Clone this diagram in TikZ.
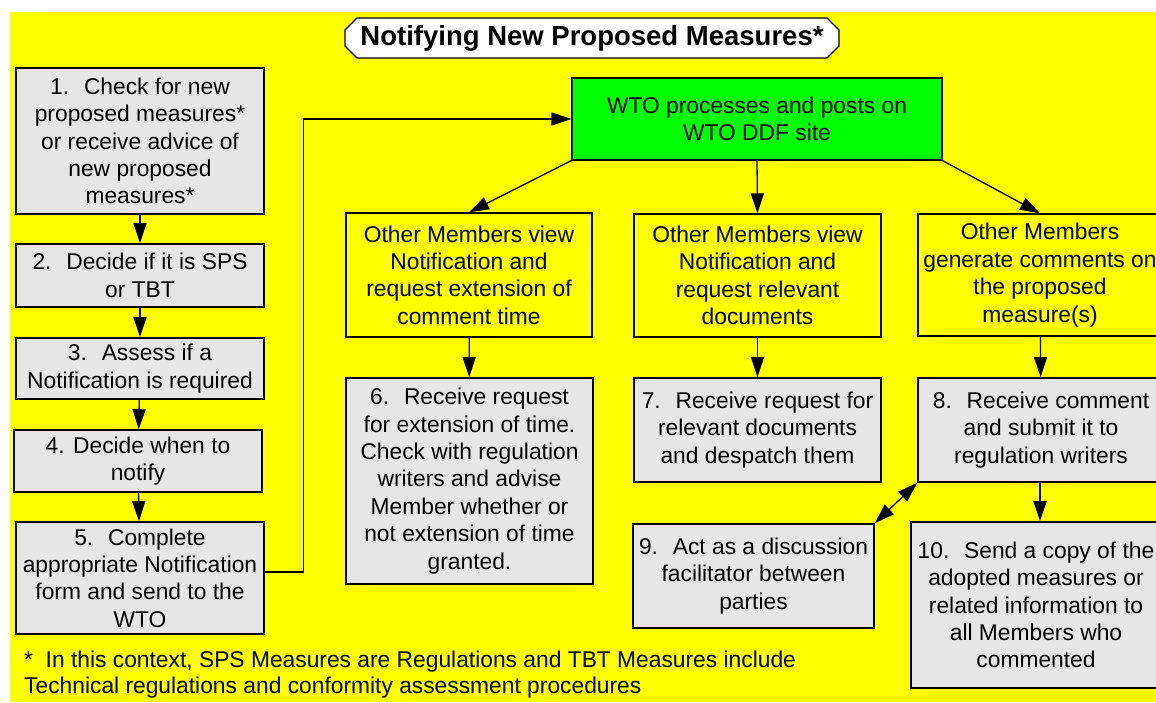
\documentclass[tikz,border=0pt]{standalone}
\usepackage{fontspec}
\setmainfont{Liberation Sans}
\usetikzlibrary{arrows.meta,shapes.misc}
\definecolor{bgyellow}{RGB}{255,255,0}
\definecolor{wtogreen}{RGB}{0,255,0}
\definecolor{stepgray}{RGB}{230,230,230}
\tikzset{
  boxfont/.style={font=\fontsize{22.8}{27.4}\selectfont},
  graybox/.style={draw, line width=1.6pt, fill=stepgray, align=center, inner sep=0pt, boxfont},
  memberbox/.style={draw, line width=1.3pt, fill=bgyellow, align=center, inner sep=0pt, boxfont},
  arr/.style={line width=1.3pt, -{Triangle[length=20pt,width=13pt]}},
  dblarr/.style={line width=1.3pt, {Triangle[length=20pt,width=13pt]}-{Triangle[length=20pt,width=13pt]}}
}
\begin{document}
\begin{tikzpicture}[x=1pt,y=-1pt]
\useasboundingbox (0,0) rectangle (1156,702);
\clip (0,0) rectangle (1156,702);
% background
\fill[white] (0,0) rectangle (1156,702);
\fill[bgyellow] (10,12) rectangle (1156,702);

% title
\node[chamfered rectangle, chamfered rectangle xsep=6pt, chamfered rectangle ysep=6pt,
  draw, line width=1.3pt, fill=white, minimum width=494pt, minimum height=40pt, inner sep=0pt,
  font=\fontsize{27.5}{30}\selectfont\bfseries] (title) at (592,38) {Notifying New Proposed Measures*};

% left column
\node[graybox, minimum width=248pt, minimum height=146pt] (s1) at (140,141) {
  1.~ Check for new \\ proposed measures* \\ or receive advice of \\ new proposed \\ measures*};
\node[graybox, minimum width=248pt, minimum height=63pt] (s2) at (140,275.5) {
  2.~ Decide if it is SPS \\ or TBT};
\node[graybox, minimum width=248pt, minimum height=61pt] (s3) at (140,368.5) {
  3.~ Assess if a \\ Notification is required};
\node[graybox, minimum width=248pt, minimum height=62pt] (s4) at (138,461) {
  4. Decide when to \\ notify};
\node[graybox, minimum width=248pt, minimum height=112pt] (s5) at (140,578) {
  5.~ Complete \\ appropriate Notification \\ form and send to the \\ WTO};

% WTO
\node[draw, line width=1.3pt, fill=wtogreen, align=center, inner sep=0pt, boxfont,
  minimum width=370pt, minimum height=82pt] (wto) at (757,119) {
  WTO processes and posts on \\ WTO DDF site};

% other members
\node[memberbox, minimum width=246pt, minimum height=124pt] (ext) at (469,275) {
  Other Members view \\ Notification and \\ request extension of \\ comment time};
\node[memberbox, minimum width=247pt, minimum height=123pt] (docs) at (757.5,275.5) {
  Other Members view \\ Notification and \\ request relevant \\ documents};
\node[memberbox, minimum width=244pt, minimum height=122pt] (cmt) at (1040,275) {
  Other Members \\ generate comments on \\ the proposed \\ measure(s)};

% responses
\node[graybox, minimum width=247pt, minimum height=206pt] (s6) at (469.5,481) {
  6.~ Receive request \\ for extension of time. \\ Check with regulation \\ writers and advise \\
  Member whether or \\ not extension of time \\ granted.};
\node[graybox, minimum width=247pt, minimum height=104pt] (s7) at (757.5,430) {
  7.~ Receive request for \\ relevant documents \\ and despatch them};
\node[graybox, minimum width=246pt, minimum height=104pt] (s8) at (1041,430) {
  8.~ Receive comment \\ and submit it to \\ regulation writers};
\node[graybox, minimum width=241pt, minimum height=104pt] (s9) at (753.5,576) {
  9.~ Act as a discussion \\ facilitator between \\ parties};
\node[graybox, minimum width=250pt, minimum height=166pt] (s10) at (1036,605) {
  10.~ Send a copy of the \\ adopted measures or \\ related information to \\ all Members who \\ commented};

% footnote
\node[anchor=north west, align=left, inner sep=0pt, font=\fontsize{22.8}{26}\selectfont] (note) at (24,651) {
  *~ In this context, SPS Measures are Regulations and TBT Measures include \\
  Technical regulations and conformity assessment procedures};

% connectors
\draw[arr] (s1) -- (s2);
\draw[arr] (s2) -- (s3);
\draw[arr] (s3) -- (s4);
\draw[arr] (s4) -- (s5);
\draw[arr] ([yshift=6pt]s5.east) -- ++(39,0) |- (wto.west);
\draw[arr] (wto.south west) -- (ext.north);
\draw[arr] (wto.south) -- (docs.north);
\draw[arr] (wto.south east) -- (cmt.north);
\draw[arr] (ext) -- (s6);
\draw[arr] (docs) -- (s7);
\draw[arr] (cmt) -- (s8);
\draw[arr] (s8.south -| cmt.south) -- (s10.north -| cmt.south);
\draw[dblarr] (s9.north east) -- (s8.south west);
\end{tikzpicture}
\end{document}
